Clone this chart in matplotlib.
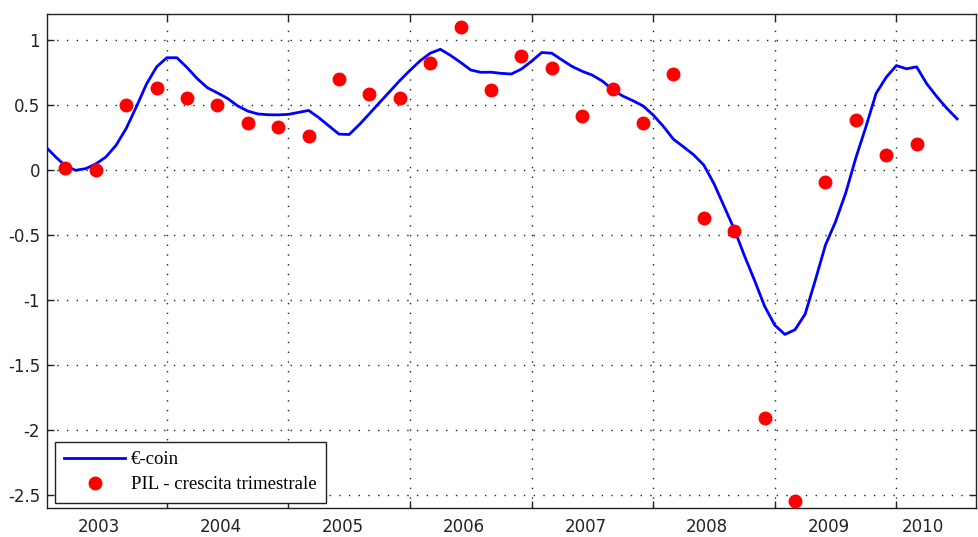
import numpy as np
import matplotlib
matplotlib.use("Agg")
import matplotlib.pyplot as plt
from matplotlib.ticker import FixedLocator, NullFormatter

plt.rcParams['axes.unicode_minus'] = False

# ---- data ----
coin_start = 2003.0  # January 2003, monthly values
coin_values = [
    0.18, 0.10, 0.029, -0.005, 0.008, 0.044, 0.098, 0.188, 0.317, 0.483,
    0.658, 0.79, 0.86, 0.86, 0.785, 0.70, 0.63, 0.59, 0.547, 0.49,
    0.45, 0.428, 0.422, 0.421, 0.425, 0.44, 0.455, 0.40, 0.336, 0.273,
    0.27, 0.346, 0.43, 0.516, 0.60, 0.685, 0.763, 0.836, 0.895, 0.925,
    0.878, 0.824, 0.766, 0.748, 0.749, 0.74, 0.735, 0.773, 0.833, 0.90,
    0.895, 0.843, 0.793, 0.756, 0.726, 0.68, 0.615, 0.566, 0.53, 0.49,
    0.42, 0.333, 0.234, 0.175, 0.114, 0.035, -0.107, -0.282, -0.457, -0.66,
    -0.85, -1.05, -1.195, -1.266, -1.23, -1.11, -0.85, -0.58, -0.40, -0.18,
    0.09, 0.33, 0.586, 0.71, 0.80, 0.775, 0.79, 0.66, 0.56, 0.47,
    0.39,
]
gdp_start = 2003 + 2/12  # end-of-quarter months, 2003 Q1 onward
gdp_values = [
    0.01, 0.0, 0.50, 0.63, 0.55, 0.50, 0.36, 0.325, 0.256,
    0.70, 0.585, 0.55, 0.82, 1.10, 0.615, 0.877, 0.785, 0.41,
    0.62, 0.36, 0.735, -0.375, -0.47, -1.905, -2.55, -0.095,
    0.385, 0.115, 0.198,
]
year_labels = ['2003', '2004', '2005', '2006', '2007', '2008', '2009', '2010']
year_label_pos = [2003.445, 2004.445, 2005.445, 2006.445, 2007.445,
                  2008.445, 2009.445, 2010.222]
year_bounds = [2004, 2005, 2006, 2007, 2008, 2009, 2010]
y_ticks = [1, 0.5, 0, -0.5, -1, -1.5, -2, -2.5]
y_tick_labels = ['1', '0.5', '0', '-0.5', '-1', '-1.5', '-2', '-2.5']

coin_x = coin_start + np.arange(len(coin_values)) / 12.0
gdp_x = gdp_start + np.arange(len(gdp_values)) * 0.25

fig = plt.figure(figsize=(9.79, 5.37), dpi=100)
ax = fig.add_axes([47/979, 29/537, 929/979, 494.5/537])

ax.plot(coin_x, coin_values, color='#0000ff', lw=2.0, label='€-coin', zorder=3)
ax.plot(gdp_x, gdp_values, linestyle='none', marker='o', color='#ff0000',
        markersize=9, markeredgecolor='#ff0000', label='PIL - crescita trimestrale',
        zorder=4)

ax.set_xlim(2003.015, 2010.655)
ax.set_ylim(-2.6, 1.2)

ax.xaxis.set_major_locator(FixedLocator(year_bounds))
ax.xaxis.set_major_formatter(NullFormatter())
ax.xaxis.set_minor_locator(FixedLocator(year_label_pos))
ax.set_xticklabels(year_labels, minor=True)
ax.set_yticks(y_ticks)
ax.set_yticklabels(y_tick_labels)

ax.tick_params(axis='both', which='major', direction='in', length=5, width=1,
               top=True, right=True, labelsize=12, colors='#222222')
ax.tick_params(axis='y', which='major', pad=5)
ax.tick_params(axis='x', which='minor', length=0, labelsize=12, pad=7,
               labelcolor='#222222')

ax.grid(True, which='major', color='#222222', linestyle=(0, (1, 6)), lw=1.0)

for s in ax.spines.values():
    s.set_color('#222222')
    s.set_linewidth(1.0)

leg = ax.legend(loc='lower left', bbox_to_anchor=(0.0086, 0.0107),
                borderaxespad=0, numpoints=1, handlelength=3.25,
                handletextpad=0.3, labelspacing=0.42, borderpad=0.5,
                fancybox=False, framealpha=1, edgecolor='#222222',
                prop={'family': 'Liberation Serif', 'size': 13.5})
leg.get_frame().set_linewidth(1.0)

fig.savefig('out.png', dpi=100)
